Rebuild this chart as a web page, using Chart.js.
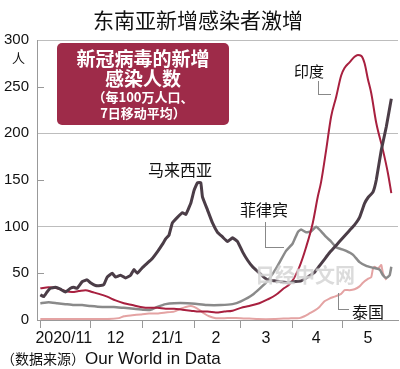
<!DOCTYPE html>
<html>
<head>
<meta charset="utf-8">
<script src="https://cdn.jsdelivr.net/npm/chart.js@4"></script>
<style>
  body { margin: 0; background: #fff; }
  #wrap { position: relative; width: 400px; height: 369px; overflow: hidden; font-family: "Noto Sans CJK SC", sans-serif; }
  #wrap canvas { position: absolute; left: 0; top: 0; }
  .t { position: absolute; white-space: nowrap; color: #111; }
  .lead { position: absolute; border-left: 1px solid #888; border-bottom: 1px solid #888; }
  #box { position: absolute; left: 57px; top: 43px; width: 172px; height: 82px; background: #9e2b49;
         border-radius: 5px; color: #fff; text-align: center; font-weight: bold; }
</style>
</head>
<body>
<div id="wrap">
  <canvas id="chart" width="400" height="369"></canvas>
  <div class="t" style="left:0;width:396px;text-align:center;top:6px;font-size:21px;line-height:26px;">东南亚新增感染者激增</div>
  <div class="t" style="left:12px;top:49px;font-size:13px;line-height:17px;">人</div>
  <div id="box">
    <div style="margin-top:5px;font-size:19px;line-height:20px;">新冠病毒的新增</div>
    <div style="font-size:19px;line-height:19px;">感染人数</div>
    <div style="margin-top:2px;font-size:13px;line-height:16px;">（每100万人口、</div>
    <div style="font-size:13px;line-height:16px;">7日移动平均）</div>
  </div>
  <div class="t" style="left:255px;top:262px;font-size:20px;line-height:26px;font-weight:bold;color:rgba(190,190,190,0.55);text-shadow:0 0 2px #fff;">日经中文网</div>
  <div class="t" style="left:294px;top:62px;font-size:15px;line-height:18px;">印度</div>
  <div class="lead" style="left:318px;top:81px;width:12px;height:13px;"></div>
  <div class="t" style="left:148px;top:159px;font-size:16px;line-height:20px;">马来西亚</div>
  <div class="t" style="left:240px;top:199px;font-size:16px;line-height:20px;">菲律宾</div>
  <div class="lead" style="left:265px;top:222px;width:18px;height:25px;"></div>
  <div class="t" style="left:352px;top:301px;font-size:16px;line-height:20px;">泰国</div>
  <div class="lead" style="left:338px;top:293px;width:10px;height:16px;"></div>
  <div class="t" style="left:1px;top:347px;line-height:20px;"><span style="font-size:14px;">（数据来源）</span><span style="font-family:'Liberation Sans',sans-serif;font-size:17px;">Our World in Data</span></div>
</div>
<script>
// días contados desde el 1 de noviembre de 2020
const monthStarts = [0, 30, 61, 92, 120, 151, 181];
const monthMids = [14, 45, 76, 105, 135, 165, 196];
const monthLabels = ['2020/11', '12', '21/1', '2', '3', '4', '5'];
const yTicks = [0, 50, 100, 150, 200, 250, 300];

// 马来西亚
const malaysiaDays = [0, 2, 4, 6, 9, 12, 15, 18, 20, 22, 25, 28, 30, 33, 36, 38, 40, 43, 45, 48, 51, 54, 56, 58, 61, 64, 67, 70, 73, 75, 77, 79, 82, 85, 87, 90, 92, 94, 96, 97, 100, 103, 106, 109, 112, 115, 118, 121, 124, 127, 130, 133, 136, 140, 144, 148, 152, 156, 160, 164, 167, 170, 173, 176, 179, 182, 185, 188, 191, 194, 196, 199, 201, 204, 207, 210];
const malaysiaVals = [27, 25, 30, 34, 35, 33, 30, 34, 35, 34, 41, 43, 40, 37, 37, 38, 46, 50, 46, 48, 45, 48, 54, 50, 56, 61, 66, 73, 81, 87, 91, 104, 110, 115, 113, 125, 139, 147, 147, 132, 118, 104, 94, 89, 84, 88, 84, 73, 64, 57, 52, 47, 43, 42, 41, 40, 41, 42, 46, 51, 58, 65, 72, 78, 84, 90, 96, 102, 110, 125, 131, 137, 150, 182, 207, 237];

// 印度
const indiaDays = [0, 5, 10, 15, 19, 23, 27, 31, 35, 40, 45, 50, 55, 60, 65, 70, 75, 80, 85, 90, 95, 100, 105, 110, 115, 120, 125, 131, 136, 141, 145, 150, 155, 159, 163, 166, 168, 171, 174, 177, 180, 182, 185, 188, 190, 192, 194, 196, 198, 201, 205, 208, 210];
const indiaVals = [34, 35, 34, 31, 30, 31, 32, 30, 28, 25, 21, 18, 16, 14, 13, 13, 12, 12, 11, 10, 9, 9, 8, 9, 10, 13, 15, 18, 22, 27, 33, 40, 57, 78, 104, 132, 148, 182, 218, 239, 262, 270, 276, 282, 284, 283, 275, 258, 243, 211, 182, 157, 136];

// 菲律宾
const philippinesDays = [0, 5, 10, 15, 20, 25, 30, 37, 44, 50, 56, 62, 66, 70, 75, 80, 88, 95, 100, 108, 115, 120, 127, 135, 141, 147, 151, 154, 156, 159, 162, 165, 168, 171, 174, 177, 180, 183, 187, 191, 195, 199, 203, 205, 207, 209, 210];
const philippinesVals = [18, 19, 18, 17, 16, 16, 15, 14, 14, 13, 12, 11, 11, 14, 17, 18, 18, 17, 16, 16, 17, 20, 27, 40, 55, 74, 82, 94, 97, 94, 95, 100, 95, 89, 84, 78, 76, 74, 70, 62, 58, 56, 54, 48, 45, 48, 57];

// 泰国
const thailandDays = [0, 10, 20, 30, 40, 47, 50, 55, 60, 65, 70, 75, 80, 84, 87, 90, 92, 95, 98, 101, 105, 110, 120, 130, 140, 150, 155, 158, 161, 164, 167, 170, 173, 176, 180, 182, 185, 188, 191, 193, 196, 198, 199, 200, 202, 203, 204, 205, 206, 207];
const thailandVals = [1, 1, 1, 1, 1, 2, 4, 5, 6, 7, 7, 8, 9, 12, 14, 15, 14, 11, 7, 4, 2, 2, 2, 1, 1, 2, 2, 4, 7, 10, 14, 20, 23, 25, 28, 32, 32, 33, 36, 40, 44, 46, 55, 57, 55, 57, 59, 50, 46, 43];

function pts(days, vals) {
    return days.map((d, i) => ({ x: d, y: vals[i] }));
}

// pequeñas marcas hacia dentro en 50, 150, 250
const innerTicks = {
    id: 'innerTicks',
    afterDraw(chart) {
        const y = chart.scales.y;
        const c = chart.ctx;
        c.save();
        c.strokeStyle = '#999';
        c.lineWidth = 1;
        yTicks.filter(v => v % 100 === 50).forEach(v => {
            const py = Math.round(y.getPixelForValue(v)) + 0.5;
            c.beginPath();
            c.moveTo(y.right, py);
            c.lineTo(y.right + 7, py);
            c.stroke();
        });
        c.restore();
    }
};

const ctx = document.getElementById('chart').getContext('2d');
const chart = new Chart(ctx, {
    type: 'line',
    data: {
        datasets: [
            { label: '马来西亚', data: pts(malaysiaDays, malaysiaVals), borderColor: '#4b3d47', borderWidth: 3, tension: 0.1, pointRadius: 0 },
            { label: '印度', data: pts(indiaDays, indiaVals), borderColor: '#a8203f', borderWidth: 2, cubicInterpolationMode: 'monotone', pointRadius: 0 },
            { label: '菲律宾', data: pts(philippinesDays, philippinesVals), borderColor: '#8a8a8a', borderWidth: 2.5, tension: 0.15, pointRadius: 0 },
            { label: '泰国', data: pts(thailandDays, thailandVals), borderColor: '#e4a3a3', borderWidth: 2, tension: 0.15, pointRadius: 0 }
        ]
    },
    options: {
        responsive: false,
        animation: false,
        layout: { padding: { top: 40, right: 2, left: 0, bottom: 0 } },
        plugins: { legend: { display: false }, tooltip: { enabled: false } },
        scales: {
            x: {
                type: 'linear',
                min: -2,
                max: 214,
                afterFit: s => { s.height = 49; },
                afterBuildTicks: s => {
                    s.ticks = monthStarts.concat(monthMids).sort((a, b) => a - b).map(v => ({ value: v }));
                },
                border: { color: '#999', width: 1 },
                grid: {
                    drawOnChartArea: false,
                    tickLength: 8,
                    tickColor: c => (c.tick && monthStarts.includes(c.tick.value)) ? '#999' : 'rgba(0,0,0,0)'
                },
                ticks: {
                    autoSkip: false,
                    maxRotation: 0,
                    padding: 1,
                    color: '#111',
                    font: { family: 'Liberation Sans', size: 16 },
                    callback: v => {
                        const i = monthMids.indexOf(v);
                        return i >= 0 ? monthLabels[i] : '';
                    }
                }
            },
            y: {
                min: 0,
                max: 300,
                afterFit: s => { s.width = 37; },
                afterBuildTicks: s => { s.ticks = yTicks.map(v => ({ value: v })); },
                border: { color: '#999', width: 1 },
                grid: {
                    drawTicks: false,
                    color: c => (c.tick && c.tick.value > 0 && c.tick.value % 100 === 0) ? '#bdbdbd' : 'rgba(0,0,0,0)'
                },
                ticks: {
                    padding: 8,
                    color: '#111',
                    font: { family: 'Liberation Sans', size: 15 }
                }
            }
        }
    },
    plugins: [innerTicks]
});
</script>
</body>
</html>
